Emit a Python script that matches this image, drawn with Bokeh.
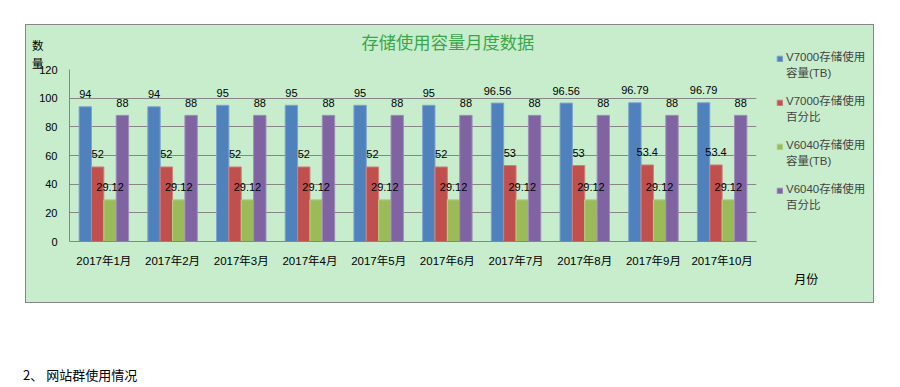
from bokeh.plotting import figure
from bokeh.models import (FactorRange, Range1d, FixedTicker, Legend, LegendItem,
                          Title, Label, Div, ColumnDataSource)
from bokeh.layouts import column, row
from bokeh.transform import dodge
from bokeh.core.properties import value
from bokeh.embed import file_html
from bokeh.resources import INLINE

# ---- data ----
months = ["2017年1月", "2017年2月", "2017年3月", "2017年4月", "2017年5月",
          "2017年6月", "2017年7月", "2017年8月", "2017年9月", "2017年10月"]
v7000_tb = [94, 94, 95, 95, 95, 95, 96.56, 96.56, 96.79, 96.79]
v7000_pct = [52, 52, 52, 52, 52, 52, 53, 53, 53.4, 53.4]
v6040_tb = [29.12, 29.12, 29.12, 29.12, 29.12, 29.12, 29.12, 29.12, 29.12, 29.12]
v6040_pct = [88, 88, 88, 88, 88, 88, 88, 88, 88, 88]
series_names = ["V7000存储使用\n容量(TB)", "V7000存储使用\n百分比",
                "V6040存储使用\n容量(TB)", "V6040存储使用\n百分比"]
y_ticks = [0, 20, 40, 60, 80, 100, 120]
title_text = "存储使用容量月度数据"
y_title = "数\n量"
x_title = "月份"
footer_text = "2、 网站群使用情况"

# ---- style ----
BG = "#C7EDCC"
GRID = "#868686"
colors = ["#4F81BD", "#C0504D", "#9BBB59", "#8064A2"]
edge = ["#7FA2CF", "#D07F7D", "#B6CF87", "#A08CBB"]
FONT = "'Liberation Sans', 'Noto Sans CJK SC', sans-serif"
CJK = "'Noto Sans CJK SC', sans-serif"


def fmt(v):
    return f"{v:g}"


series = [v7000_tb, v7000_pct, v6040_tb, v6040_pct]
keys = ["s0", "s1", "s2", "s3"]
data = {"months": months}
for k, s in zip(keys, series):
    data[k] = s
    data[k + "_lbl"] = [fmt(v) for v in s]
src = ColumnDataSource(data)

# ---------------- main chart ----------------
p = figure(x_range=FactorRange(*months), y_range=Range1d(0, 120), title=None,
           width=739, height=277, output_backend="svg", toolbar_location=None,
           tools="", min_border_left=43, min_border_right=9,
           min_border_top=44, min_border_bottom=61,
           background_fill_color=BG, border_fill_color=BG,
           outline_line_color=None)

# y-axis title (stacked characters) closest to the frame, chart title above it
p.add_layout(Title(text=y_title, align="left", offset=-37.5, standoff=-3,
                   vertical_align="bottom", text_font=CJK,
                   text_font_size="11.5px", text_line_height=1.15,
                   text_font_style="normal", text_color="#000000"), "above")
p.add_layout(Title(text=title_text, align="left", offset=292, standoff=-35,
                   vertical_align="bottom", text_font=CJK,
                   text_font_size="17.3px", text_font_style="normal",
                   text_color="#3AA64B"), "above")

for ax in (p.xaxis[0], p.yaxis[0]):
    ax.axis_line_color = GRID
    ax.major_tick_line_color = None
    ax.minor_tick_line_color = None
    ax.major_tick_out = 0
    ax.major_tick_in = 0
    ax.minor_tick_out = 0
    ax.minor_tick_in = 0
    ax.major_label_text_font = FONT
    ax.major_label_text_color = "#000000"
p.yaxis.major_label_text_font_size = "11px"
p.xaxis.major_label_text_font_size = "11.5px"
p.yaxis.ticker = FixedTicker(ticks=y_ticks)
p.yaxis.major_label_standoff = 12
p.xaxis.major_label_standoff = 13
p.xgrid.grid_line_color = None
p.ygrid.grid_line_color = GRID
p.ygrid.ticker = FixedTicker(ticks=y_ticks)

offsets = [-0.27, -0.09, 0.09, 0.27]
for k, off, c, e in zip(keys, offsets, colors, edge):
    p.vbar(x=dodge("months", off, range=p.x_range), top=k, width=0.18,
           source=src, fill_color=c, line_color=e, line_width=1)
for k, off in zip(keys, offsets):
    p.text(x=dodge("months", off, range=p.x_range), y=k, text=k + "_lbl",
           source=src, text_align="center", text_baseline="middle",
           y_offset=-12.5, text_font=value(FONT), text_font_size="11px",
           text_color="#000000")

# ---------------- legend strip (right part of the chart box) ----------------
pl = figure(width=108, height=277, output_backend="svg", toolbar_location=None,
            tools="", x_range=Range1d(0, 1), y_range=Range1d(0, 1),
            x_axis_location=None, y_axis_location=None,
            min_border_left=0, min_border_right=0, min_border_top=0,
            min_border_bottom=0, background_fill_color=BG,
            border_fill_color=BG, outline_line_color=None)
pl.grid.grid_line_color = None

for fig in (p, pl):
    if "frame_align" in fig.properties():
        fig.frame_align = False

# legend swatches: one off-range proxy bar per series (never visible itself)
proxy = ColumnDataSource(dict(x=[0.5], top=[-1.0], bottom=[-2.0]))
leg_renderers = []
for c, e in zip(colors, edge):
    leg_renderers.append(pl.vbar(x="x", top="top", bottom="bottom", width=0.1,
                                 source=proxy, fill_color=c, line_color=e,
                                 line_width=1))
# leading blank line: the colour square sits beside the first text line
legend = Legend(items=[LegendItem(label="\n" + n, renderers=[r])
                       for n, r in zip(series_names, leg_renderers)],
                location="top_left", margin=11, padding=0, spacing=-4,
                glyph_width=7, glyph_height=7, label_standoff=3,
                label_text_font=FONT, label_text_font_size="11.5px",
                label_text_line_height=1.6,
                background_fill_alpha=0, border_line_color=None)
pl.add_layout(legend)
pl.add_layout(Label(x=40.7, y=24.3, x_units="screen", y_units="screen",
                    text=x_title, text_align="center", text_baseline="middle",
                    text_font=CJK, text_font_size="12px", text_color="#000000"))

chart = row(p, pl, margin=(25, 0, 0, 26),
            styles={"outline": "1px solid #868686", "background-color": BG})

footer = Div(text=footer_text, width=300, height=4, margin=(66, 0, 0, 23),
             styles={"font-size": "13px", "line-height": "14px",
                     "font-family": CJK, "overflow": "visible",
                     "color": "#000000"})

layout = column(chart, footer)
open("out.html", "w").write(file_html(layout, INLINE))
